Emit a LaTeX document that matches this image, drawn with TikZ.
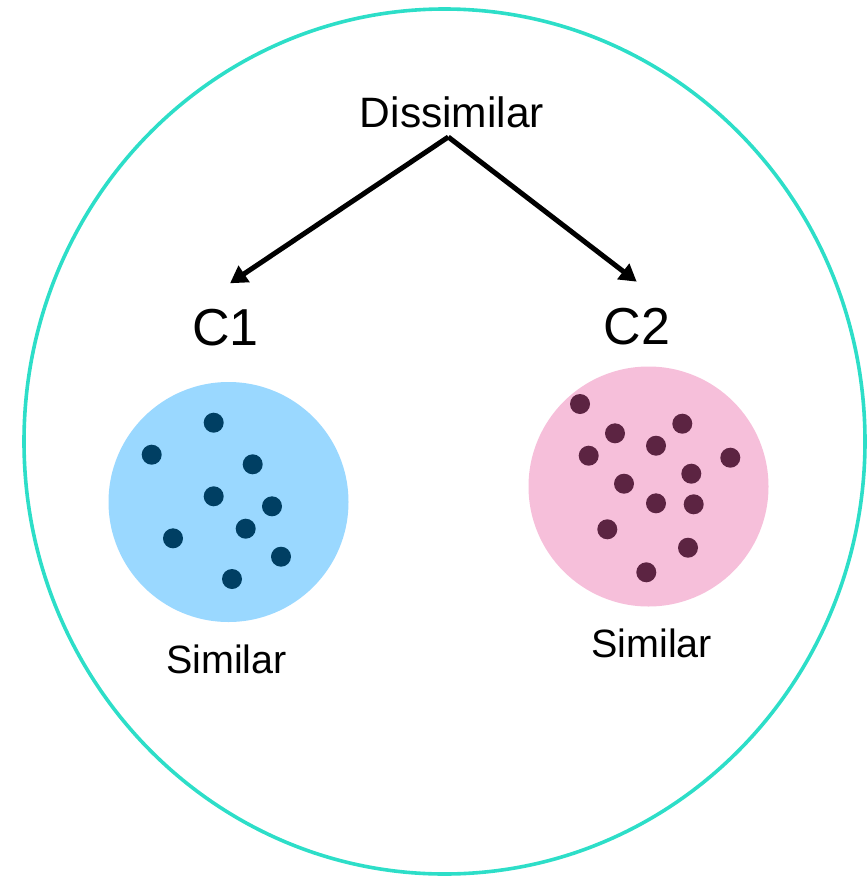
\documentclass[tikz,border=0pt]{standalone}
\usepackage{fontspec}
\setmainfont{Liberation Sans}
\usetikzlibrary{arrows.meta}
\definecolor{outerring}{RGB}{45,222,200}
\definecolor{blueset}{RGB}{154,216,255}
\definecolor{bluedot}{RGB}{0,63,99}
\definecolor{pinkset}{RGB}{246,191,218}
\definecolor{pinkdot}{RGB}{92,36,66}
\begin{document}
\begin{tikzpicture}[x=1pt,y=-1pt,
		labeltext/.style={anchor=base,inner sep=0pt},
		splitarrow/.style={line width=5pt,-{Triangle[length=17pt,width=19pt]}},
		clusterdot/.style={circle,inner sep=0pt,minimum size=20pt}]
			\newcommand{\mybigfont}[1]{
				\fontsize{52}{62}\selectfont{#1}
			}\newcommand{\mymidfont}[1]{
				\fontsize{42.5}{50}\selectfont{#1}
			}\newcommand{\mysmallfont}[1]{
				\fontsize{39.5}{47}\selectfont{#1}
			}%Page frame
			\useasboundingbox (0,0) rectangle (867,878);
			%Outer ring
			\coordinate (world) at (444.5,441.5);
			\draw [outerring,line width=3.6pt] (world) ellipse [x radius=420.5,y radius=432.5];
			%The two clusters
			\coordinate (center1) at (228.5,502);
			\coordinate (center2) at (648.5,486.5);
			\fill [blueset] (center1) circle [radius=120];
			\fill [pinkset] (center2) circle [radius=120];
			%Points in cluster one
			\foreach \px/\py [count=\i] in {213.7/422.7,151.7/454.7,252.7/464.3,213.7/496.3,272/506.3,245.7/528.7,173/538.3,281/556.7,232/579} {
				\node [clusterdot,fill=bluedot] (bdot\i) at (\px,\py) {};
			}
			%Points in cluster two
			\foreach \px/\py [count=\i] in {580/404,615/433.3,682.3/423.7,656/445.7,588.7/455.7,730.3/457.7,691.3/473.7,624/483.7,693.7/504.3,656/503.3,607.3/529.3,688/547.7,646.3/572.3} {
				\node [clusterdot,fill=pinkdot] (pdot\i) at (\px,\py) {};
			}
			%Labels
			\node [labeltext] (dis) at (452,127) {\mymidfont{Dissimilar}};
			\node [labeltext] (c1) at (225.5,345) {\mybigfont{C1}};
			\node [labeltext] (c2) at (637,344) {\mybigfont{C2}};
			\node [labeltext] (sim1) at (226.5,673) {\mysmallfont{Similar}};
			\node [labeltext] (sim2) at (651.7,657) {\mysmallfont{Similar}};
			%Arrows from the top label down to the clusters
			\coordinate (apex) at (448.3,137);
			\coordinate (tip1) at (230,283.3);
			\coordinate (tip2) at (636.7,281.7);
			\draw [splitarrow] (apex) -- (tip1);
			\draw [splitarrow] (apex) -- (tip2);
			\end{tikzpicture}
\end{document}
